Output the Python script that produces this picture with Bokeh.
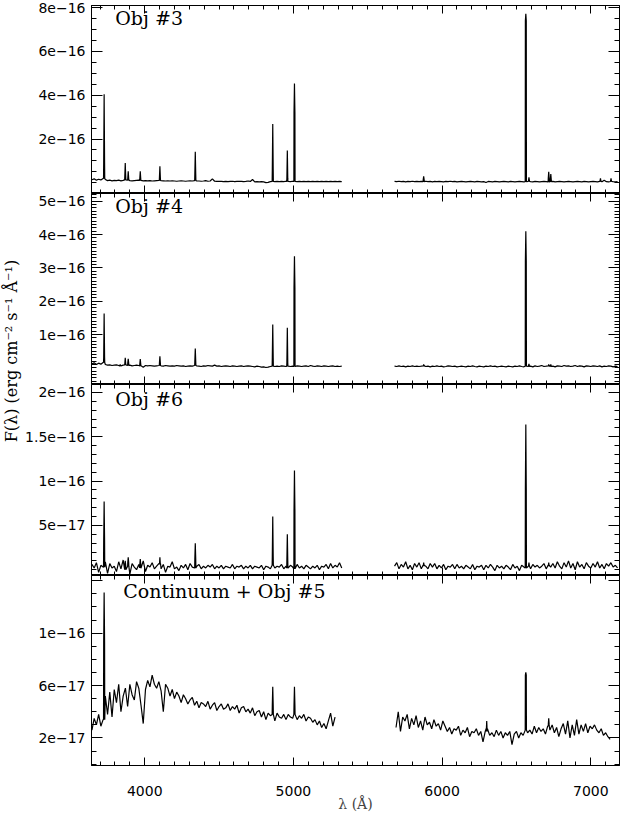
import math
from bokeh.plotting import figure
from bokeh.layouts import column, row
from bokeh.models import Range1d, LinearAxis, FixedTicker, CustomJSTickFormatter, Label
from bokeh.embed import file_html
from bokeh.resources import INLINE

# ---------------- data ----------------
STEP = 15.0          # Angstrom between continuum samples
FLUX_UNIT = 1e-18    # continuum / line values are given in units of 1e-18

x_major = [4000, 5000, 6000, 7000]
x_labels = ["4000", "5000", "6000", "7000"]

# Panel 1 : Obj #3
p1_blue_start = 3645
p1_blue = [14, 18, 12, 16, 13, 20, 15, 10, 12, 9,
           11, 10, 12, 9, 11, 13, 12, 10, 9, 10,
           11, 12, 11, 9, 10, 9, 10, 8, 9, 10,
           11, 10, 9, 8, 9, 8, 9, 8, 7, 8,
           9, 8, 7, 8, 9, 8, 10, 9, 8, 7,
           8, 10, 7, 8, 18, 7, 6, 7, 6, 5,
           6, 5, 6, 7, 5, 6, 7, 6, 5, 6,
           8, 6, 15, 4, 5, 4, 5, 4, 1, 2,
           5, 6, 5, 6, 5, 6, 5, 7, 6, 5,
           7, 6, 5, 6, 5, 6, 5, 6, 5, 6,
           5, 6, 5, 6, 5, 6, 5, 6, 5, 6,
           5, 6, 5]
p1_red_start = 5680
p1_red = [6, 5, 7, 5, 6, 4, 6, 5, 7, 5,
          6, 5, 6, 5, 7, 5, 6, 4, 6, 5,
          6, 5, 4, 6, 5, 7, 5, 6, 4, 5,
          6, 5, 4, 5, 6, 5, 4, 6, 5, 4,
          5, 1, 6, 5, 4, 6, 5, 4, 5, 6,
          5, 4, 6, 5, 4, 5, 6, 5, 4, 5,
          6, 5, 4, 6, 5, 4, 5, 6, 5, 4,
          5, 6, 4, 5, 6, 5, 4, 5, 6, 5,
          4, 5, 6, 5, 4, 6, 5, 4, 5, 6,
          5, 4, 6, 5, 12, 5, 4, 6, 5, 4,
          5]
p1_line_wl = [3727, 3869, 3889, 3970, 4102, 4340, 4861, 4959, 5007, 5876, 6563, 6584, 6717, 6731, 7065, 7136]
p1_line_peak = [405, 90, 53, 53, 75, 142, 268, 147, 453, 30, 772, 25, 50, 40, 20, 20]
p1_line_base = [90, 30, 20, 20, 25, 40, 60, 20, 320, 15, 740, 10, 20, 15, 8, 8]

# Panel 2 : Obj #4
p2_blue_start = 3645
p2_blue = [12, 15, 10, 14, 11, 16, 10, 8, 9, 7,
           8, 9, 7, 6, 8, 9, 7, 8, 6, 7,
           8, 7, 6, 2, 7, 6, 7, 6, 5, 6,
           7, 6, 5, 7, 6, 5, 6, 5, 7, 6,
           5, 6, 4, 5, 6, 5, 7, 6, 5, 4,
           6, 5, 7, 6, 5, 8, 5, 6, 4, 5,
           6, 5, 4, 6, 5, 4, 5, 6, 4, 5,
           6, 5, 4, 3, 5, 4, 2, 3, 1, 2,
           4, 5, 4, 5, 4, 6, 5, 4, 5, 4,
           5, 4, 6, 5, 4, 5, 6, 4, 7, 5,
           4, 6, 5, 4, 6, 5, 4, 5, 6, 4,
           5, 4, 5]
p2_red_start = 5680
p2_red = [5, 4, 6, 4, 5, 3, 5, 4, 6, 4,
          5, 4, 5, 6, 4, 5, 3, 5, 4, 6,
          4, 5, 3, 4, 6, 5, 4, 5, 3, 4,
          5, 4, 3, 5, 4, 6, 4, 3, 5, 4,
          3, 5, 4, 6, 4, 5, 3, 4, 5, 4,
          3, 5, 4, 3, 5, 4, 6, 4, 3, 5,
          4, 5, 3, 6, 4, 5, 7, 4, 5, 6,
          4, 5, 3, 6, 5, 4, 7, 5, 6, 4,
          5, 7, 4, 6, 5, 3, 6, 5, 4, 6,
          5, 4, 6, 3, 5, 4, 6, 5, 3, 5,
          4]
p2_line_wl = [3727, 3835, 3869, 3889, 3970, 4102, 4340, 4861, 4959, 5007, 5876, 6563, 6584, 6717, 6731]
p2_line_peak = [163, 10, 30, 27, 26, 35, 58, 130, 120, 335, 10, 410, 12, 10, 10]
p2_line_base = [32, 6, 12, 15, 12, 15, 20, 30, 15, 240, 5, 320, 6, 5, 5]

# Panel 3 : Obj #6
p3_blue_start = 3645
p3_blue = [6, 2, 8, -3, 5, 3, 9, -4, 7, 2,
           4, -2, 9, 1, 11, 0, 4, -5, 7, 3,
           0, 6, 2, 10, -2, 5, 3, 8, 1, 4,
           7, 1, 6, -3, 4, 3, 9, 1, 3, -1,
           5, 2, 6, 0, 7, 3, 2, 4, 6, 1,
           4, 2, 5, 3, 6, 1, 4, 2, 5, 1,
           4, 3, 2, 6, 1, 4, 3, 5, 1, 4,
           2, 5, 1, 4, 3, 2, 5, 0, 4, 3,
           1, 5, 2, 4, 3, 6, 1, 4, 2, 5,
           3, 1, 6, 2, 4, 1, 5, 3, 1, 4,
           2, 5, 0, 4, 3, 6, 1, 7, 2, 5,
           3, 8, 2]
p3_red_start = 5680
p3_red = [4, 8, 1, 6, 3, 9, 1, 5, 0, 7,
          3, 8, 1, 5, 4, 1, 7, 3, 7, 1,
          5, 2, 6, 0, 4, 3, 6, 1, 6, 2,
          4, 1, 5, 3, 1, 6, 0, 4, 3, 5,
          0, 5, 2, 6, 3, -1, 5, 2, 4, 1,
          5, 3, 0, 6, 2, 4, -1, 5, 3, 2,
          4, 1, 6, 3, 5, 2, 4, 7, 1, 5,
          3, 7, 2, 9, 4, 1, 8, 3, 10, 2,
          7, 0, 9, 3, 6, 1, 8, 4, 2, 7,
          3, 9, 2, 6, 1, 7, 4, 8, 3, 5,
          2]
p3_line_wl = [3727, 3869, 3889, 3970, 4102, 4340, 4861, 4959, 5007, 5876, 6563, 6584, 6717]
p3_line_peak = [77, 10, 14, 12, 14, 30, 60, 40, 112, 8, 164, 8, 8]
p3_line_base = [32, 5, 8, 6, 6, 12, 15, 10, 66, 4, 91, 4, 4]

# Panel 4 : Continuum + Obj #5
p4_blue_start = 3645
p4_blue = [26, 35, 30, 38, 29, 34, 52, 38, 55, 36,
           57, 47, 61, 40, 52, 58, 44, 61, 53, 49,
           63, 58, 45, 31, 57, 64, 59, 68, 61, 58,
           63, 56, 40, 61, 58, 52, 57, 50, 55, 52,
           47, 53, 50, 46, 49, 51, 45, 48, 43, 47,
           46, 44, 48, 42, 45, 47, 41, 44, 46, 42,
           43, 46, 41, 44, 42, 45, 39, 43, 44, 40,
           42, 39, 43, 37, 40, 41, 36, 40, 34, 39,
           37, 38, 33, 39, 36, 35, 38, 34, 38, 36,
           35, 38, 34, 37, 35, 38, 33, 36, 35, 32,
           34, 30, 33, 28, 31, 27, 33, 39, 29, 36]
p4_red_start = 5690
p4_red = [28, 40, 25, 36, 33, 38, 27, 35, 30, 37,
          28, 33, 26, 36, 30, 32, 27, 34, 29, 31,
          26, 33, 29, 25, 28, 23, 27, 26, 29, 22,
          26, 24, 28, 21, 25, 24, 27, 22, 25, 17,
          25, 27, 22, 24, 21, 26, 22, 25, 20, 24,
          22, 25, 15, 23, 25, 20, 24, 22, 26, 24,
          26, 23, 29, 24, 28, 25, 27, 23, 29, 26,
          30, 24, 28, 21, 27, 31, 23, 33, 20, 30,
          22, 34, 23, 30, 25, 31, 24, 29, 27, 30,
          26, 24, 27, 22, 24, 21, 19]
p4_line_wl = [3727, 4861, 5007, 6300, 6563, 6717]
p4_line_peak = [131, 59, 59, 33, 70, 35]
p4_line_base = [93, 45, 45, 25, 68, 30]

# y-axis ticks per panel
p1_yticks = [2e-16, 4e-16, 6e-16, 8e-16]
p1_ylabels = ["2e\u221216", "4e\u221216", "6e\u221216", "8e\u221216"]
p2_yticks = [1e-16, 2e-16, 3e-16, 4e-16, 5e-16]
p2_ylabels = ["1e\u221216", "2e\u221216", "3e\u221216", "4e\u221216", "5e\u221216"]
p3_yticks = [5e-17, 1e-16, 1.5e-16, 2e-16]
p3_ylabels = ["5e\u221217", "1e\u221216", "1.5e\u221216", "2e\u221216"]
p4_yticks = [2e-17, 6e-17, 1e-16, 1.4e-16]
p4_ylabels = ["2e\u221217", "6e\u221217", "1e\u221216", ""]

titles = ["Obj #3", "Obj #4", "Obj #6", "Continuum + Obj #5"]

# ---------------- layout constants ----------------
X_RANGE = (3642, 7193)
YLAB_W = 22
LEFT = 66
FRAME_W = 531
RIGHT = 2
PANEL_W = LEFT + FRAME_W + RIGHT
FRAME_H = [188, 191, 191, 190]
TOP1 = 5
BOTTOM4 = 52
TOTAL_H = TOP1 + sum(FRAME_H) + BOTTOM4


def build_segment(start, vals, lwl, lpk, lbs):
    wl = [start + STEP * i for i in range(len(vals))]
    lo, hi = wl[0], wl[-1]
    inside = [(w, pk, bs) for w, pk, bs in zip(lwl, lpk, lbs) if lo <= w <= hi]
    pts = []
    for w, v in zip(wl, vals):
        if any(abs(w - lw) < 5 for lw, _, _ in inside):
            continue
        pts.append((w, v))
    for w, pk, bs in inside:
        # level at the foot of the line: the nearest continuum sample
        near = min(zip(wl, vals), key=lambda t: abs(t[0] - w))[1]
        pts += [(w - 4, near), (w - 3, bs), (w, pk), (w + 3, bs), (w + 4, near)]
    pts.sort()
    return [p[0] for p in pts], [p[1] * FLUX_UNIT for p in pts]


def label_formatter(tvals, tlabs):
    return CustomJSTickFormatter(args=dict(tvals=tvals, tlabs=tlabs), code="""
        for (let i = 0; i < tvals.length; i++) {
            if (Math.abs(tvals[i] - tick) <= 1e-6 * Math.abs(tvals[i])) { return tlabs[i]; }
        }
        return "";
    """)


def configure(ax, tvals, minor, tlabs, tick_len, minor_len, show):
    ax.ticker = FixedTicker(ticks=tvals, minor_ticks=minor)
    ax.major_tick_in = tick_len
    ax.major_tick_out = 0
    ax.minor_tick_in = minor_len
    ax.minor_tick_out = 0
    ax.axis_line_color = "black"
    ax.major_tick_line_color = "black"
    ax.minor_tick_line_color = "black"
    if show:
        ax.formatter = label_formatter(tvals, tlabs)
        ax.major_label_text_font = "DejaVu Sans"
        ax.major_label_text_font_size = "14px"
        ax.major_label_text_color = "black"
        ax.major_label_standoff = 6
    else:
        ax.formatter = CustomJSTickFormatter(code='return "";')
        ax.major_label_text_font_size = "0px"
        ax.major_label_standoff = 0


x_minor = list(range(3700, 7200, 100))

panel_specs = [
    dict(blue=(p1_blue_start, p1_blue), red=(p1_red_start, p1_red),
         lines=(p1_line_wl, p1_line_peak, p1_line_base),
         yr=(-0.49e-16, 8.1e-16), yt=p1_yticks, yl=p1_ylabels,
         ym=[k * 5e-17 for k in range(-1, 17)], title_x=3802, title_dy=-1),
    dict(blue=(p2_blue_start, p2_blue), red=(p2_red_start, p2_red),
         lines=(p2_line_wl, p2_line_peak, p2_line_base),
         yr=(-0.5e-16, 5.23e-16), yt=p2_yticks, yl=p2_ylabels,
         ym=[k * 1e-17 for k in range(-5, 53)], title_x=3802, title_dy=-1),
    dict(blue=(p3_blue_start, p3_blue), red=(p3_red_start, p3_red),
         lines=(p3_line_wl, p3_line_peak, p3_line_base),
         yr=(-0.065e-16, 2.09e-16), yt=p3_yticks, yl=p3_ylabels,
         ym=[k * 1e-17 for k in range(0, 21)], title_x=3802, title_dy=-3),
    dict(blue=(p4_blue_start, p4_blue), red=(p4_red_start, p4_red),
         lines=(p4_line_wl, p4_line_peak, p4_line_base),
         yr=(-0.01e-16, 1.44e-16), yt=p4_yticks, yl=p4_ylabels,
         ym=[k * 1e-17 for k in range(0, 15)], title_x=3855, title_dy=-4),
]

figs = []
for i, spec in enumerate(panel_specs):
    top_b = TOP1 if i == 0 else 0
    bot_b = BOTTOM4 if i == 3 else 0
    p = figure(width=PANEL_W, height=FRAME_H[i] + top_b + bot_b,
               x_range=Range1d(*X_RANGE), y_range=Range1d(*spec["yr"]),
               output_backend="svg", toolbar_location=None,
               x_axis_location=None, y_axis_location=None,
               min_border_left=LEFT, min_border_right=RIGHT,
               min_border_top=top_b, min_border_bottom=bot_b)
    p.grid.visible = False
    p.outline_line_color = "black"
    p.outline_line_width = 1
    p.background_fill_color = "white"
    p.border_fill_color = "white"

    left = LinearAxis()
    configure(left, spec["yt"], spec["ym"], spec["yl"], 11, 5, True)
    p.add_layout(left, "left")
    right = LinearAxis()
    configure(right, spec["yt"], spec["ym"], spec["yl"], 11, 5, False)
    p.add_layout(right, "right")
    top = LinearAxis()
    configure(top, x_major, x_minor, x_labels, 8, 4, False)
    p.add_layout(top, "above")
    bottom = LinearAxis()
    configure(bottom, x_major, x_minor, x_labels, 8, 4, i == 3)
    if i == 3:
        bottom.major_label_standoff = 20
        bottom.major_label_text_font_size = "14px"
        bottom.axis_label = "\u03bb (\u00c5)"
        bottom.axis_label_text_font = "DejaVu Serif"
        bottom.axis_label_text_font_size = "14px"
        bottom.axis_label_text_font_style = "normal"
        bottom.axis_label_standoff = -3
    p.add_layout(bottom, "below")

    lwl, lpk, lbs = spec["lines"]
    for seg in (spec["blue"], spec["red"]):
        xs, ys = build_segment(seg[0], seg[1], lwl, lpk, lbs)
        p.line(xs, ys, line_color="black", line_width=1.2)

    p.add_layout(Label(x=spec["title_x"], y=spec["yr"][1], y_offset=spec["title_dy"],
                       text=titles[i], text_baseline="top", text_align="left",
                       text_font="DejaVu Serif", text_font_size="19px",
                       text_color="black"))
    figs.append(p)

ylab = figure(width=YLAB_W, height=TOTAL_H, x_range=Range1d(0, 1),
              y_range=Range1d(0, TOTAL_H), output_backend="svg",
              toolbar_location=None, x_axis_location=None, y_axis_location=None,
              min_border=0)
ylab.outline_line_color = None
ylab.grid.visible = False
ylab.add_layout(Label(x=0.5, y=TOTAL_H - 348,
                      text="F(\u03bb)  (erg cm\u207b\u00b2 s\u207b\u00b9 \u00c5\u207b\u00b9)",
                      angle=math.pi / 2, text_align="center", text_baseline="middle",
                      text_font="DejaVu Serif", text_font_size="16px", text_color="black"))

layout = row(ylab, column(*figs, spacing=0), spacing=0)
open("out.html", "w").write(file_html(layout, INLINE))
